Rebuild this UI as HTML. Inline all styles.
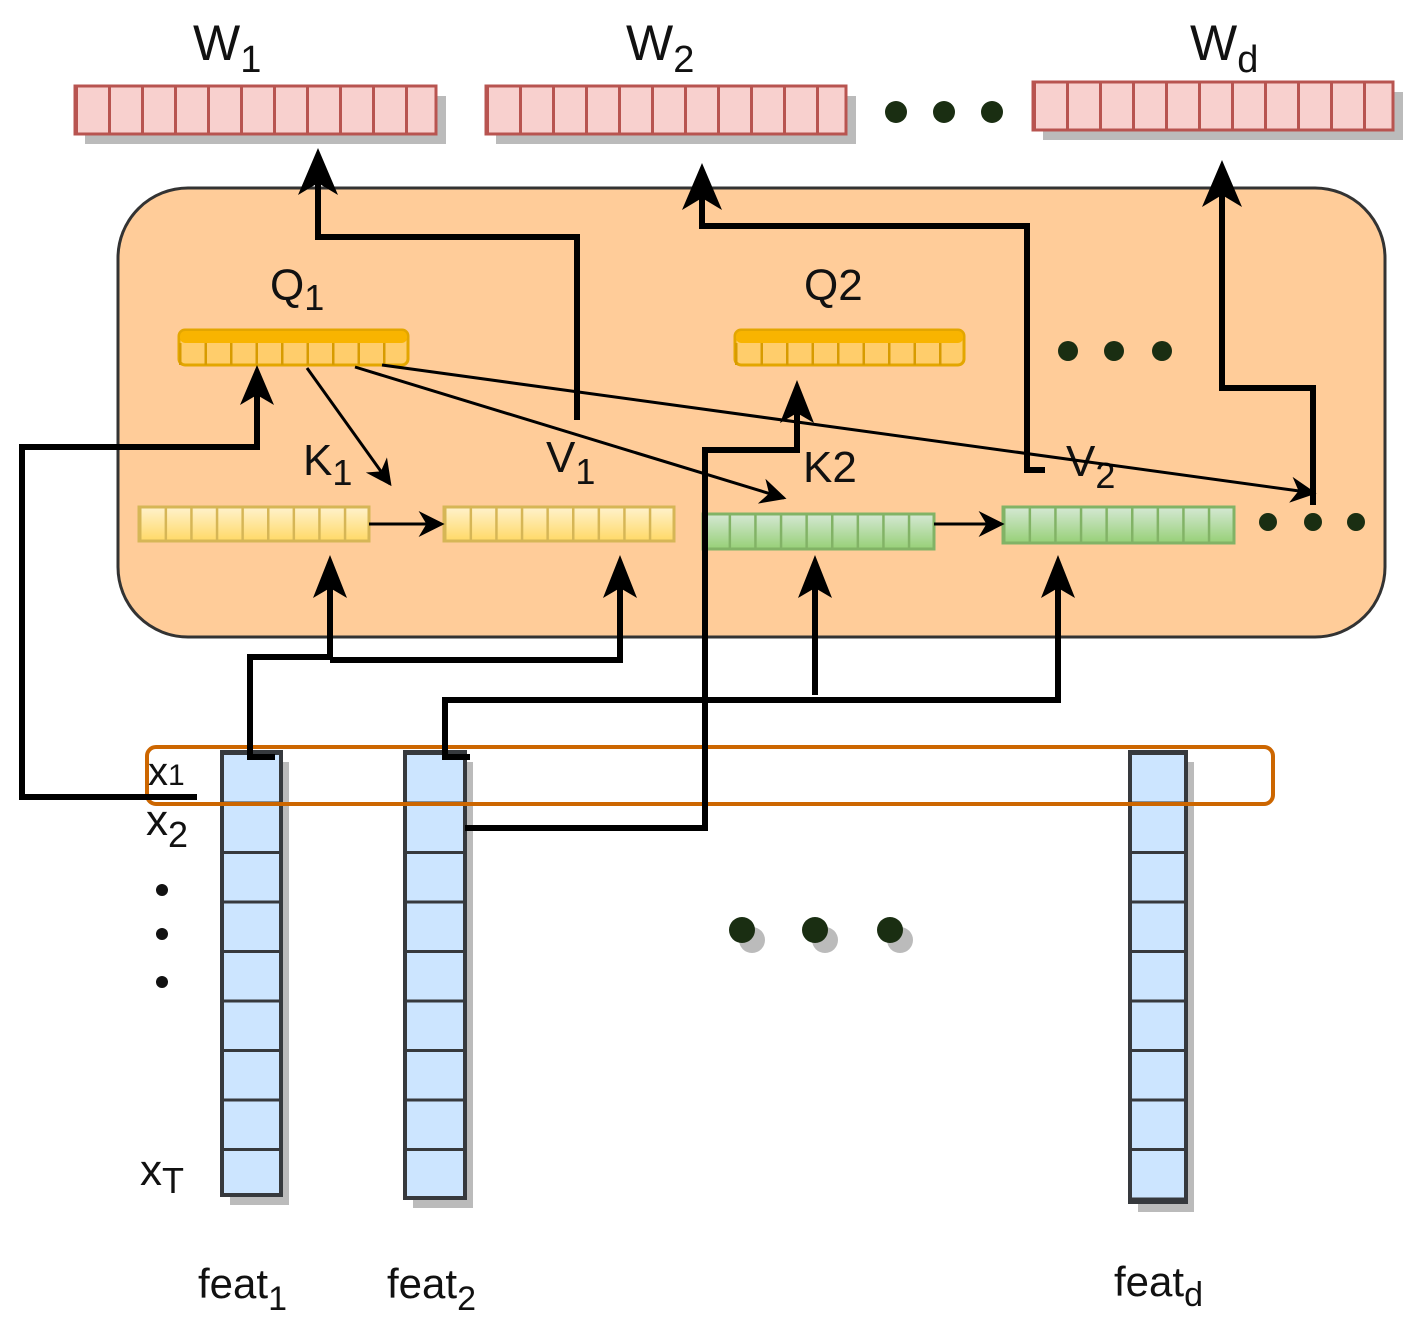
<!DOCTYPE html>
<html><head><meta charset="utf-8"><style>
html,body{margin:0;padding:0;background:#fff;}
svg{display:block;}
text{font-family:"Liberation Sans",sans-serif;fill:#111;}
</style></head><body>
<svg width="1417" height="1323" viewBox="0 0 1417 1323" xmlns="http://www.w3.org/2000/svg">
<defs>
<pattern id="pw1" x="75" y="0" width="33" height="10" patternUnits="userSpaceOnUse"><rect x="0" y="0" width="3" height="10" fill="#B85450"/></pattern>
<pattern id="pw2" x="486" y="0" width="33" height="10" patternUnits="userSpaceOnUse"><rect x="0" y="0" width="3" height="10" fill="#B85450"/></pattern>
<pattern id="pw3" x="1033" y="0" width="33" height="10" patternUnits="userSpaceOnUse"><rect x="0" y="0" width="3" height="10" fill="#B85450"/></pattern>
<pattern id="pq" x="179" y="0" width="25.5" height="10" patternUnits="userSpaceOnUse"><rect x="0" y="0" width="2.5" height="10" fill="#D79B00"/></pattern>
<pattern id="pq2" x="735" y="0" width="25.5" height="10" patternUnits="userSpaceOnUse"><rect x="0" y="0" width="2.5" height="10" fill="#D79B00"/></pattern>
<pattern id="py" x="139" y="0" width="25.6" height="10" patternUnits="userSpaceOnUse"><rect x="0" y="0" width="2.5" height="10" fill="#d6b656"/></pattern>
<pattern id="py2" x="444" y="0" width="25.6" height="10" patternUnits="userSpaceOnUse"><rect x="0" y="0" width="2.5" height="10" fill="#d6b656"/></pattern>
<pattern id="pg" x="703" y="0" width="25.6" height="10" patternUnits="userSpaceOnUse"><rect x="0" y="0" width="2.5" height="10" fill="#82b366"/></pattern>
<pattern id="pg2" x="1003" y="0" width="25.6" height="10" patternUnits="userSpaceOnUse"><rect x="0" y="0" width="2.5" height="10" fill="#82b366"/></pattern>
<pattern id="pf" x="0" y="752" width="10" height="49.5" patternUnits="userSpaceOnUse"><rect x="0" y="0" width="10" height="3" fill="#36393d"/></pattern>
<linearGradient id="gy" x1="0" y1="0" x2="0" y2="1"><stop offset="0" stop-color="#FFF2CC"/><stop offset="1" stop-color="#FFD966"/></linearGradient>
<linearGradient id="gg" x1="0" y1="0" x2="0" y2="1"><stop offset="0" stop-color="#d5e8d4"/><stop offset="1" stop-color="#97d077"/></linearGradient>
<marker id="ah" viewBox="0 0 10 10" refX="9" refY="5" markerWidth="30" markerHeight="26" orient="auto" markerUnits="userSpaceOnUse"><path d="M0,0 L10,5 L0,10 L3,5 z" fill="#000"/></marker>
</defs>

<g>
<rect x="85" y="96" width="361" height="48" fill="#bbb"/>
<rect x="75" y="86" width="361" height="48" fill="#F8D0CE" stroke="#B85450" stroke-width="3"/>
<rect x="75" y="86" width="361" height="48" fill="url(#pw1)"/>
<rect x="496" y="96" width="360" height="48" fill="#bbb"/>
<rect x="486" y="86" width="360" height="48" fill="#F8D0CE" stroke="#B85450" stroke-width="3"/>
<rect x="486" y="86" width="360" height="48" fill="url(#pw2)"/>
<rect x="1043" y="92" width="360" height="48" fill="#bbb"/>
<rect x="1033" y="82" width="360" height="48" fill="#F8D0CE" stroke="#B85450" stroke-width="3"/>
<rect x="1033" y="82" width="360" height="48" fill="url(#pw3)"/>
</g>
<text x="193" y="60" font-size="50">W<tspan font-size="38" dy="12">1</tspan></text>
<text x="626" y="60" font-size="50">W<tspan font-size="38" dy="12">2</tspan></text>
<text x="1190" y="60" font-size="50">W<tspan font-size="38" dy="12">d</tspan></text>
<g fill="#1a2e12"><circle cx="896" cy="112" r="11"/><circle cx="944" cy="112" r="11"/><circle cx="992" cy="112" r="11"/></g>

<rect x="118" y="188" width="1267" height="449" rx="70" fill="#FFCC99" stroke="#333" stroke-width="3"/>

<rect x="179" y="330" width="229" height="35" rx="6" fill="#FFCD6B" stroke="#E3A600" stroke-width="3"/>
<rect x="180" y="331" width="227" height="12" rx="5" fill="#F8B400"/>
<rect x="179" y="343" width="229" height="22" fill="url(#pq)"/>
<rect x="735" y="330" width="229" height="35" rx="6" fill="#FFCD6B" stroke="#E3A600" stroke-width="3"/>
<rect x="736" y="331" width="227" height="12" rx="5" fill="#F8B400"/>
<rect x="735" y="343" width="229" height="22" fill="url(#pq2)"/>
<text x="270" y="300" font-size="44">Q<tspan font-size="36" dy="10">1</tspan></text>
<text x="804" y="300" font-size="44">Q2</text>
<g fill="#1a2e12"><circle cx="1068" cy="351" r="10"/><circle cx="1114" cy="351" r="10"/><circle cx="1162" cy="351" r="10"/></g>

<rect x="139" y="507" width="230" height="34" fill="url(#gy)" stroke="#d6b656" stroke-width="3"/>
<rect x="139" y="507" width="230" height="34" fill="url(#py)"/>
<rect x="444" y="507" width="230" height="34" fill="url(#gy)" stroke="#d6b656" stroke-width="3"/>
<rect x="444" y="507" width="230" height="34" fill="url(#py2)"/>
<rect x="703" y="514" width="231" height="35" fill="url(#gg)" stroke="#82b366" stroke-width="3"/>
<rect x="703" y="514" width="231" height="35" fill="url(#pg)"/>
<rect x="1003" y="507" width="231" height="36" fill="url(#gg)" stroke="#82b366" stroke-width="3"/>
<rect x="1003" y="507" width="231" height="36" fill="url(#pg2)"/>
<text x="303" y="475" font-size="44">K<tspan font-size="36" dy="10">1</tspan></text>
<text x="546" y="472" font-size="44">V<tspan font-size="36" dy="12">1</tspan></text>
<text x="803" y="482" font-size="44">K2</text>
<text x="1066" y="476" font-size="44">V<tspan font-size="36" dy="12">2</tspan></text>
<g fill="#1a2e12"><circle cx="1268" cy="522" r="9"/><circle cx="1313" cy="522" r="9"/><circle cx="1356" cy="522" r="9"/></g>

<g stroke="#000" stroke-width="3" fill="none">
<line x1="369" y1="524" x2="442" y2="524" marker-end="url(#ah)"/>
<line x1="934" y1="524" x2="1002" y2="524" marker-end="url(#ah)"/>
<line x1="307" y1="368" x2="390" y2="484" marker-end="url(#ah)"/>
<line x1="355" y1="367" x2="784" y2="498" marker-end="url(#ah)"/>
<line x1="382" y1="365" x2="1314" y2="493" marker-end="url(#ah)"/>
</g>

<g>
<rect x="230" y="762" width="59" height="443" fill="#bbb"/>
<rect x="222" y="752" width="59" height="443" fill="#CCE5FF" stroke="#36393d" stroke-width="4"/>
<rect x="222" y="752" width="59" height="443" fill="url(#pf)"/>
<rect x="413" y="762" width="60" height="446" fill="#bbb"/>
<rect x="405" y="752" width="60" height="446" fill="#CCE5FF" stroke="#36393d" stroke-width="4"/>
<rect x="405" y="752" width="60" height="446" fill="url(#pf)"/>
<rect x="1138" y="762" width="56" height="450" fill="#bbb"/>
<rect x="1130" y="752" width="56" height="450" fill="#CCE5FF" stroke="#36393d" stroke-width="4"/>
<rect x="1130" y="752" width="56" height="450" fill="url(#pf)"/>
</g>
<rect x="147" y="747" width="1126" height="57" rx="9" fill="none" stroke="#CC6600" stroke-width="4"/>

<g stroke="#000" stroke-width="6" fill="none" stroke-linejoin="miter">
<polyline points="197,797 22,797 22,447 257,447 257,380"/>
<polyline points="275,757 250,757 250,657 330,657 330,575"/>
<polyline points="330,660 620,660 620,575"/>
<polyline points="470,757 445,757 445,700 1058,700 1058,575"/>
<polyline points="815,695 815,575"/>
<polyline points="465,828 705,828 705,450 797,450 797,398"/>
<polyline points="577,420 577,237 318,237 318,165"/>
<polyline points="1045,470 1027,470 1027,226 702,226 702,180"/>
<polyline points="1313,505 1313,388 1222,388 1222,178"/>
</g>
<g fill="#000">
<path d="M257,365 L240,405 L257,395 L274,405 Z"/>
<path d="M330,555 L313,598 L330,588 L347,598 Z"/>
<path d="M620,555 L603,598 L620,588 L637,598 Z"/>
<path d="M815,555 L798,598 L815,588 L832,598 Z"/>
<path d="M1058,555 L1041,598 L1058,588 L1075,598 Z"/>
<path d="M797,380 L780,423 L797,413 L814,423 Z"/>
<path d="M318,148 L298,195 L318,183 L338,195 Z"/>
<path d="M702,163 L682,210 L702,198 L722,210 Z"/>
<path d="M1222,160 L1202,207 L1222,195 L1242,207 Z"/>
</g>

<text x="148" y="785" font-size="40">x<tspan font-size="30">1</tspan></text>
<text x="146" y="835" font-size="44">x<tspan font-size="36" dy="12">2</tspan></text>
<g fill="#111"><circle cx="162" cy="890" r="6"/><circle cx="162" cy="934" r="6"/><circle cx="162" cy="982" r="6"/></g>
<text x="140" y="1185" font-size="44">x<tspan font-size="36" dy="8">T</tspan></text>

<g fill="#bbb"><circle cx="752" cy="940" r="13"/><circle cx="825" cy="940" r="13"/><circle cx="900" cy="940" r="13"/></g>
<g fill="#1a2e12"><circle cx="742" cy="930" r="13"/><circle cx="815" cy="930" r="13"/><circle cx="890" cy="930" r="13"/></g>

<text x="198" y="1298" font-size="42">feat<tspan font-size="34" dy="12">1</tspan></text>
<text x="387" y="1298" font-size="42">feat<tspan font-size="34" dy="12">2</tspan></text>
<text x="1114" y="1296" font-size="42">feat<tspan font-size="34" dy="10">d</tspan></text>
</svg>
</body></html>
